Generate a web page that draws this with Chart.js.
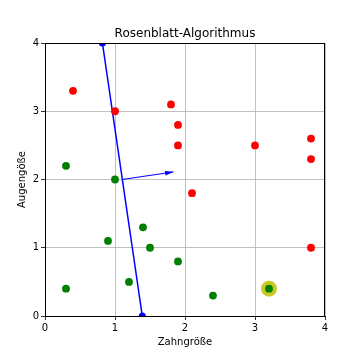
<!DOCTYPE html>
<html>
<head>
<meta charset="utf-8">
<script src="https://cdn.jsdelivr.net/npm/chart.js@4"></script>
<style>
  html, body { margin: 0; padding: 0; background: #fff; }
  #wrap { width: 360px; height: 360px; }
</style>
</head>
<body>
<div id="wrap"><canvas id="myChart" width="360" height="360"></canvas></div>
<script>
// class A (red) and class B (green) samples
const red_x = [0.4, 1.0, 1.8, 1.9, 1.9, 3.0, 3.8, 3.8, 2.1, 3.8]
const red_y = [3.3, 3.0, 3.1, 2.8, 2.5, 2.5, 2.6, 2.3, 1.8, 1.0]
const green_x = [0.3, 1.0, 1.4, 0.9, 1.5, 1.9, 1.2, 0.3, 2.4, 3.2]
const green_y = [2.2, 2.0, 1.3, 1.1, 1.0, 0.8, 0.5, 0.4, 0.3, 0.4]
// currently selected sample
const current_x = [3.2]
const current_y = [0.4]
// decision line and weight vector
const line_x = [0.82, 1.39]
const line_y = [4.0, 0.0]
const arrow_x = [1.10, 1.83]
const arrow_y = [2.0, 2.11]
const ticks = [0, 1, 2, 3, 4]

function pts(xs, ys) {
    let out = []
    for (let i = 0; i < xs.length; i++) {
        out.push({x: xs[i], y: ys[i]})
    }
    return out
}

const frame = {
    id: 'frame',
    afterLayout(chart) {
        // center the title over the plot area, like matplotlib
        if (chart.titleBlock) {
            chart.titleBlock.left = chart.chartArea.left
            chart.titleBlock.right = chart.chartArea.right
        }
    },
    afterDatasetsDraw(chart) {
        const a = chart.chartArea
        const c = chart.ctx
        // arrow head at end of the weight vector
        const meta = chart.getDatasetMeta(3)
        const p0 = meta.data[0], p1 = meta.data[1]
        const ang = Math.atan2(p1.y - p0.y, p1.x - p0.x)
        c.save()
        c.fillStyle = '#0000ff'
        c.translate(p1.x, p1.y)
        c.rotate(ang)
        c.beginPath()
        c.moveTo(1, 0)
        c.lineTo(-8, -2.3)
        c.lineTo(-8, 2.3)
        c.closePath()
        c.fill()
        c.restore()
        c.save()
        c.strokeStyle = '#000'
        c.lineWidth = 1
        c.strokeRect(a.left + 0.5, a.top + 0.5, a.right - a.left - 1, a.bottom - a.top)
        c.restore()
    }
}

const ctx = document.getElementById('myChart')
const myChart = new Chart(ctx, {
    type: 'scatter',
    data: {
        datasets: [{
            data: pts(red_x, red_y),
            backgroundColor: '#ff0000',
            borderWidth: 0,
            pointRadius: 3.9,
            order: 1
        }, {
            data: pts(green_x, green_y),
            backgroundColor: '#008000',
            borderWidth: 0,
            pointRadius: 3.9,
            order: 1
        }, {
            data: pts(line_x, line_y),
            showLine: true,
            borderColor: '#0000ff',
            backgroundColor: '#0000ff',
            borderWidth: 1.5,
            pointRadius: 3.5,
            pointBorderWidth: 0,
            clip: 0,
            order: 2
        }, {
            data: pts(arrow_x, arrow_y),
            showLine: true,
            borderColor: '#0000ff',
            borderWidth: 1.2,
            pointRadius: 0,
            order: 2
        }, {
            data: pts(current_x, current_y),
            backgroundColor: 'rgba(191,191,0,0.85)',
            borderWidth: 0,
            pointRadius: 8,
            order: 9
        }]
    },
    options: {
        responsive: false,
        animation: false,
        events: [],
        layout: {
            padding: {left: 8, right: 35, top: 26, bottom: 10}
        },
        plugins: {
            legend: {display: false},
            tooltip: {enabled: false},
            title: {
                display: true,
                text: 'Rosenblatt-Algorithmus',
                color: '#000',
                font: {family: 'DejaVu Sans', size: 12, weight: 'normal', lineHeight: 1.25},
                padding: {top: 0, bottom: 2}
            }
        },
        scales: {
            x: {
                type: 'linear',
                min: 0,
                max: 4,
                afterBuildTicks: (s) => { s.ticks = ticks.map(v => ({value: v})) },
                afterFit: (s) => { s.height = 34 },
                ticks: {
                    color: '#000',
                    padding: 2,
                    font: {family: 'DejaVu Sans', size: 10},
                    maxRotation: 0
                },
                grid: {color: '#b0b0b0', lineWidth: 0.8, tickColor: '#000', tickLength: 4},
                border: {display: true, color: '#000', width: 1},
                title: {
                    display: true,
                    text: 'Zahngröße',
                    color: '#000',
                    font: {family: 'DejaVu Sans', size: 10},
                    padding: {top: 2, bottom: 2}
                }
            },
            y: {
                type: 'linear',
                min: 0,
                max: 4,
                afterBuildTicks: (s) => { s.ticks = ticks.map(v => ({value: v})) },
                afterFit: (s) => { s.width = 37 },
                ticks: {
                    color: '#000',
                    padding: 2,
                    font: {family: 'DejaVu Sans', size: 10}
                },
                grid: {color: '#b0b0b0', lineWidth: 0.8, tickColor: '#000', tickLength: 4},
                border: {display: true, color: '#000', width: 1},
                title: {
                    display: true,
                    text: 'Augengöße',
                    color: '#000',
                    font: {family: 'DejaVu Sans', size: 10},
                    padding: {top: 8, bottom: 2}
                }
            }
        }
    },
    plugins: [frame]
})
</script>
</body>
</html>
